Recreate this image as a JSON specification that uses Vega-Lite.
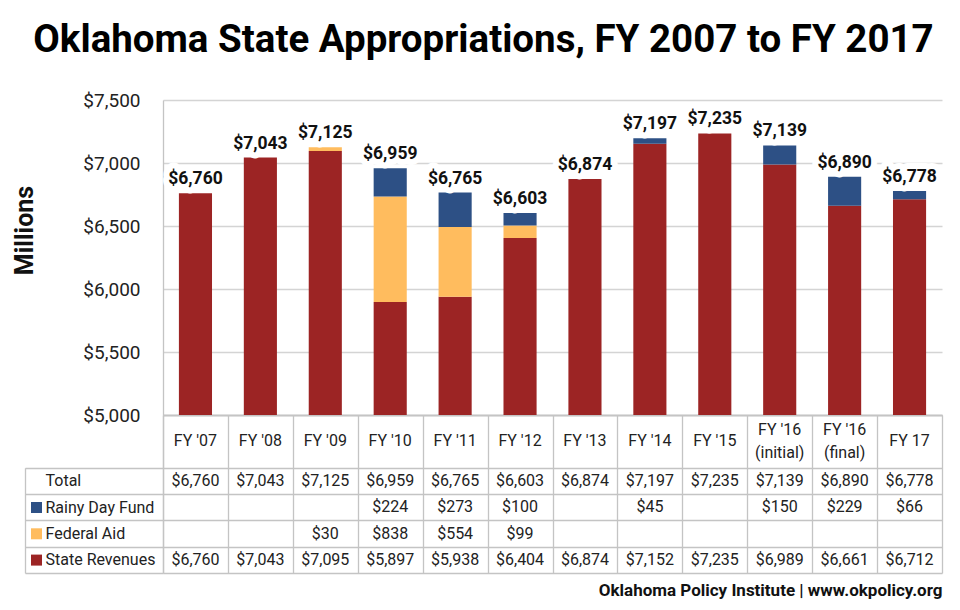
{
  "$schema": "https://vega.github.io/schema/vega-lite/v6.json",
  "width": 779,
  "height": 473,
  "autosize": "none",
  "padding": {"left": 163, "top": 100, "right": 18, "bottom": 37},
  "background": "white",
  "title": {
    "text": "Oklahoma State Appropriations, FY 2007 to FY 2017",
    "font": "Roboto", "fontSize": 38.5, "fontWeight": "bold", "color": "#000000",
    "anchor": "middle", "frame": "group", "dx": -69, "baseline": "alphabetic", "offset": 1
  },
  "config": {"font": "Roboto", "view": {"stroke": null}},
  "datasets": {
    "parts": [
      {"fy": "FY '07", "series": "State Revenues", "value": 6760, "stackOrder": 1},
      {"fy": "FY '08", "series": "State Revenues", "value": 7043, "stackOrder": 1},
      {"fy": "FY '09", "series": "State Revenues", "value": 7095, "stackOrder": 1},
      {"fy": "FY '09", "series": "Federal Aid", "value": 30, "stackOrder": 2},
      {"fy": "FY '10", "series": "State Revenues", "value": 5897, "stackOrder": 1},
      {"fy": "FY '10", "series": "Federal Aid", "value": 838, "stackOrder": 2},
      {"fy": "FY '10", "series": "Rainy Day Fund", "value": 224, "stackOrder": 3},
      {"fy": "FY '11", "series": "State Revenues", "value": 5938, "stackOrder": 1},
      {"fy": "FY '11", "series": "Federal Aid", "value": 554, "stackOrder": 2},
      {"fy": "FY '11", "series": "Rainy Day Fund", "value": 273, "stackOrder": 3},
      {"fy": "FY '12", "series": "State Revenues", "value": 6404, "stackOrder": 1},
      {"fy": "FY '12", "series": "Federal Aid", "value": 99, "stackOrder": 2},
      {"fy": "FY '12", "series": "Rainy Day Fund", "value": 100, "stackOrder": 3},
      {"fy": "FY '13", "series": "State Revenues", "value": 6874, "stackOrder": 1},
      {"fy": "FY '14", "series": "State Revenues", "value": 7152, "stackOrder": 1},
      {"fy": "FY '14", "series": "Rainy Day Fund", "value": 45, "stackOrder": 3},
      {"fy": "FY '15", "series": "State Revenues", "value": 7235, "stackOrder": 1},
      {"fy": "FY '16\n(initial)", "series": "State Revenues", "value": 6989, "stackOrder": 1},
      {"fy": "FY '16\n(initial)", "series": "Rainy Day Fund", "value": 150, "stackOrder": 3},
      {"fy": "FY '16\n(final)", "series": "State Revenues", "value": 6661, "stackOrder": 1},
      {"fy": "FY '16\n(final)", "series": "Rainy Day Fund", "value": 229, "stackOrder": 3},
      {"fy": "FY 17", "series": "State Revenues", "value": 6712, "stackOrder": 1},
      {"fy": "FY 17", "series": "Rainy Day Fund", "value": 66, "stackOrder": 3}
    ],
    "totals": [
      {"fy": "FY '07", "total": 6760},
      {"fy": "FY '08", "total": 7043},
      {"fy": "FY '09", "total": 7125},
      {"fy": "FY '10", "total": 6959},
      {"fy": "FY '11", "total": 6765},
      {"fy": "FY '12", "total": 6603},
      {"fy": "FY '13", "total": 6874},
      {"fy": "FY '14", "total": 7197},
      {"fy": "FY '15", "total": 7235},
      {"fy": "FY '16\n(initial)", "total": 7139},
      {"fy": "FY '16\n(final)", "total": 6890},
      {"fy": "FY 17", "total": 6778}
    ]
  },
  "encoding": {
    "x": {
      "field": "fy", "type": "nominal",
      "scale": {
        "type": "band",
        "domain": ["FY '07", "FY '08", "FY '09", "FY '10", "FY '11", "FY '12", "FY '13", "FY '14", "FY '15", "FY '16\n(initial)", "FY '16\n(final)", "FY 17"],
        "paddingInner": 0, "paddingOuter": 0
      },
      "axis": {
        "orient": "bottom", "offset": -158, "labels": false,
        "ticks": true, "tickBand": "extent", "tickSize": 158, "tickColor": "#c4c4c4", "tickWidth": 1.3,
        "domain": true, "domainColor": "#c4c4c4", "domainWidth": 1.3, "grid": false,
        "title": "Oklahoma Policy Institute | www.okpolicy.org",
        "titleFont": "Roboto", "titleFontSize": 17, "titleFontWeight": "bold", "titleColor": "#111111",
        "titleAnchor": "end", "titlePadding": 9
      }
    }
  },
  "layer": [
    {
      "data": {"name": "parts"},
      "mark": {"type": "bar", "width": {"band": 0.51}, "clip": true},
      "encoding": {
        "y": {
          "field": "value", "type": "quantitative", "stack": "zero",
          "scale": {"domain": [5000, 7500], "range": [315, 0], "clamp": true, "zero": false, "nice": false},
          "axis": {
            "orient": "left",
            "values": [5000, 5500, 6000, 6500, 7000, 7500], "format": "$,.0f",
            "labelFontSize": 19, "labelColor": "#222222", "labelPadding": 23,
            "ticks": false, "tickSize": 0,
            "domain": true, "domainColor": "#c4c4c4", "domainWidth": 1.3,
            "grid": true, "gridColor": "#d4d4d4", "gridWidth": 1.5,
            "title": "Millions", "titleFontSize": 25, "titleFontWeight": "bold", "titleColor": "#111111",
            "titleX": -131, "titleY": 130, "titleAngle": 270, "titleAlign": "center", "titleBaseline": "alphabetic"
          }
        },
        "color": {
          "field": "series", "type": "nominal",
          "scale": {"domain": ["Rainy Day Fund", "Federal Aid", "State Revenues"], "range": ["#2D5085", "#FFBC5E", "#9C2424"]},
          "legend": {
            "orient": "none", "legendX": -132, "legendY": 402, "title": null, "direction": "vertical",
            "symbolType": "square", "symbolSize": 121, "symbolStrokeWidth": 0,
            "labelExpr": "''", "rowPadding": 15.3, "padding": 0
          }
        },
        "order": {"field": "stackOrder", "type": "quantitative"}
      }
    },
    {
      "data": {"name": "totals"},
      "mark": {"type": "text", "baseline": "alphabetic", "dy": -9, "fontSize": 17.5, "fontWeight": "bold", "color": "white", "stroke": "white", "strokeWidth": 12, "strokeJoin": "round"},
      "encoding": {
        "y": {"field": "total", "type": "quantitative", "scale": {"domain": [5000, 7500], "range": [315, 0], "clamp": true, "zero": false, "nice": false}, "axis": null},
        "text": {"field": "total", "type": "quantitative", "format": "$,.0f"}
      }
    },
    {
      "data": {"name": "totals"},
      "mark": {"type": "text", "baseline": "alphabetic", "dy": -9, "fontSize": 17.5, "fontWeight": "bold", "color": "#111111"},
      "encoding": {
        "y": {"field": "total", "type": "quantitative", "scale": {"domain": [5000, 7500], "range": [315, 0], "clamp": true, "zero": false, "nice": false}, "axis": null},
        "text": {"field": "total", "type": "quantitative", "format": "$,.0f"}
      }
    },
    {
      "data": {"name": "totals"},
      "transform": [{"filter": "indexof(datum.fy, '\\n') < 0"}],
      "mark": {"type": "text", "fontSize": 16, "color": "#222222", "baseline": "middle"},
      "encoding": {
        "y": {"datum": "h1", "type": "nominal", "bandPosition": 1, "scale": {"type": "band", "domain": ["h1", "h2", "Total", "Rainy Day Fund", "Federal Aid", "State Revenues"], "range": [315, 473], "paddingInner": 0, "paddingOuter": 0}, "axis": null},
        "text": {"field": "fy", "type": "nominal"}
      }
    },
    {
      "data": {"name": "totals"},
      "transform": [{"filter": "indexof(datum.fy, '\\n') >= 0"}],
      "mark": {"type": "text", "fontSize": 16, "color": "#222222", "baseline": "middle", "lineBreak": "\n", "lineHeight": 23, "dy": -11.5},
      "encoding": {
        "y": {"datum": "h1", "type": "nominal", "bandPosition": 1, "scale": {"type": "band", "domain": ["h1", "h2", "Total", "Rainy Day Fund", "Federal Aid", "State Revenues"], "range": [315, 473], "paddingInner": 0, "paddingOuter": 0}, "axis": null},
        "text": {"field": "fy", "type": "nominal"}
      }
    },
    {
      "data": {"name": "parts"},
      "mark": {"type": "text", "fontSize": 16, "color": "#222222", "baseline": "middle"},
      "encoding": {
        "y": {
          "field": "series", "type": "nominal", "bandPosition": 0.5,
          "scale": {"type": "band", "domain": ["h1", "h2", "Total", "Rainy Day Fund", "Federal Aid", "State Revenues"], "range": [315, 473], "paddingInner": 0, "paddingOuter": 0},
          "axis": {
            "orient": "left", "title": null,
            "labelExpr": "datum.value == 'h1' || datum.value == 'h2' ? '' : datum.value",
            "labelAlign": "left", "labelBaseline": "middle", "labelPadding": -20, "labelFontSize": 16, "labelColor": "#222222",
            "tickBand": "extent", "tickSize": 138, "tickColor": "#c4c4c4", "tickWidth": 1.3,
            "tickOpacity": {"condition": {"test": "datum.value == 'h1' || !!datum.extra", "value": 0}, "value": 1},
            "grid": true, "gridColor": "#c4c4c4", "gridWidth": 1.3,
            "gridOpacity": {"condition": {"test": "datum.value == 'h1'", "value": 0}, "value": 1},
            "domain": true, "domainColor": "#c4c4c4", "domainWidth": 1.3
          }
        },
        "text": {"field": "value", "type": "quantitative", "format": "$,.0f"}
      }
    },
    {
      "data": {"name": "totals"},
      "mark": {"type": "text", "fontSize": 16, "color": "#222222", "baseline": "middle"},
      "encoding": {
        "y": {
          "datum": "Total", "type": "nominal", "bandPosition": 0.5,
          "scale": {"type": "band", "domain": ["h1", "h2", "Total", "Rainy Day Fund", "Federal Aid", "State Revenues"], "range": [315, 473], "paddingInner": 0, "paddingOuter": 0},
          "axis": {
            "orient": "left", "offset": 138, "title": null, "labels": false, "ticks": false, "grid": false,
            "domain": true, "domainColor": "#c4c4c4", "domainWidth": 1.3, "domainDash": [0, 52.7, 105.3, 0]
          }
        },
        "text": {"field": "total", "type": "quantitative", "format": "$,.0f"}
      }
    }
  ],
  "resolve": {"scale": {"y": "independent"}, "axis": {"y": "independent"}}
}
